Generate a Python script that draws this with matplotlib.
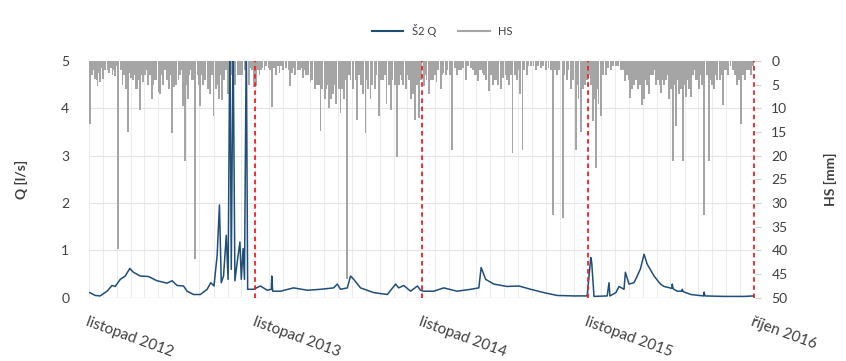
import numpy as np
import matplotlib
matplotlib.use("Agg")
import matplotlib.pyplot as plt
from matplotlib.lines import Line2D

plt.rcParams['font.family'] = ['Lato', 'DejaVu Sans']

start = np.datetime64('2012-11-01')

# discharge Q [l/s], knots (day offset from start)
q_day = [1, 13, 24, 39, 50, 57, 68, 79, 89, 97, 112, 130, 149, 171, 182, 193, 207, 215, 229, 244,
         259, 267, 274, 281, 286, 290, 295, 301, 305, 309, 312, 316, 320, 325, 331, 334, 338, 341, 345, 348,
         361, 376, 391, 400, 401, 403, 420, 449, 479, 508, 537, 545, 552, 567, 574, 581, 596, 625, 655, 673,
         680, 691, 706, 721, 728, 735, 757, 779, 808, 838, 856, 861, 871, 889, 918, 944, 970, 999, 1028, 1065,
         1094, 1102, 1104, 1109, 1138, 1142, 1144, 1157, 1164, 1175, 1178, 1186, 1197, 1204, 1211, 1219, 1226, 1241, 1255, 1263,
         1280, 1281, 1283, 1292, 1302, 1303, 1305, 1322, 1350, 1351, 1353, 1395, 1439, 1460]
q_val = [0.11, 0.05, 0.04, 0.14, 0.26, 0.24, 0.39, 0.46, 0.62, 0.54, 0.46, 0.45, 0.36, 0.31, 0.36, 0.26, 0.25, 0.14, 0.07, 0.07,
         0.18, 0.32, 0.25, 0.90, 1.96, 0.32, 0.46, 1.32, 0.39, 5.50, 0.60, 5.50, 0.36, 0.75, 1.18, 0.39, 1.04, 0.39, 5.50, 0.18,
         0.18, 0.25, 0.16, 0.18, 0.46, 0.14, 0.14, 0.21, 0.16, 0.18, 0.21, 0.29, 0.18, 0.21, 0.46, 0.39, 0.21, 0.11, 0.07, 0.29,
         0.21, 0.26, 0.14, 0.25, 0.16, 0.14, 0.14, 0.21, 0.14, 0.18, 0.21, 0.64, 0.39, 0.29, 0.24, 0.25, 0.18, 0.11, 0.05, 0.04,
         0.04, 0.85, 0.75, 0.03, 0.04, 0.32, 0.04, 0.11, 0.24, 0.18, 0.54, 0.29, 0.32, 0.46, 0.61, 0.92, 0.71, 0.46, 0.29, 0.24,
         0.20, 0.29, 0.19, 0.14, 0.14, 0.18, 0.13, 0.07, 0.04, 0.12, 0.04, 0.03, 0.03, 0.04]

# precipitation HS [mm] (day offset from start)
hs_day = [2, 8, 13, 18, 24, 30, 35, 43, 51, 57, 64, 73, 80, 86, 92, 97, 102, 106, 112, 118,
          123, 130, 138, 143, 147, 152, 156, 162, 167, 175, 182, 186, 191, 200, 205, 211, 216, 222, 227, 233,
          238, 244, 250, 255, 260, 266, 273, 279, 286, 292, 297, 304, 310, 316, 321, 326, 332, 341, 350, 356,
          361, 367, 374, 380, 385, 394, 402, 411, 418, 425, 433, 442, 453, 464, 470, 477, 486, 495, 501, 508,
          517, 521, 526, 531, 535, 543, 548, 552, 559, 567, 574, 580, 589, 596, 602, 607, 613, 618, 627, 636,
          645, 653, 662, 671, 677, 684, 690, 695, 706, 711, 716, 724,
          735, 741, 746, 755, 763, 772, 778, 783, 798, 807, 816, 827, 838, 847, 854, 861, 867, 878, 887, 895,
          904, 910, 915, 922, 930, 939, 946, 952, 961, 970, 981, 992, 1003, 1018, 1027, 1040, 1049, 1058, 1069, 1075,
          1080, 1089, 1098, 1107, 1113, 1119, 1124, 1135, 1146, 1157, 1168, 1177, 1188, 1193, 1197, 1206, 1214, 1219, 1223, 1229,
          1234, 1245, 1250, 1256, 1262, 1267, 1274, 1282, 1289, 1296, 1304, 1311, 1317, 1322, 1333, 1340, 1351, 1362, 1368, 1373,
          1380, 1392, 1404, 1415, 1423, 1432, 1441, 1450, 1455,
          # smaller rain days
          5, 10, 16, 21, 27, 40, 47, 54, 60, 69, 76, 83, 89, 100, 109, 115, 126, 134, 141, 159,
          165, 170, 178, 196, 203, 208, 214, 219, 225, 230, 241, 247, 253, 263, 270, 283, 289, 301, 313, 319,
          329, 336, 345, 353, 358, 364, 370, 378, 389, 398, 406, 414, 422, 438, 446, 449, 458, 468, 473, 481,
          490, 498, 504, 512, 524, 529, 538, 556, 563, 570, 585, 592, 599, 610, 622, 631, 640, 649, 658, 666,
          674, 681, 687, 699, 703, 720, 728, 738, 750, 759, 767, 775, 787, 792, 803, 812, 821, 832, 843, 851,
          858, 864, 872, 883, 891, 899, 918, 926, 935, 943, 956, 965, 976, 986, 997, 1009, 1014, 1023, 1033, 1044,
          1053, 1063, 1072, 1084, 1093, 1102, 1110, 1116, 1129, 1140, 1151, 1162, 1173, 1182, 1185, 1201, 1210, 1217, 1226, 1238,
          1241, 1253, 1259, 1271, 1278, 1285, 1292, 1300, 1307, 1314, 1326, 1330, 1337, 1344, 1347, 1358, 1365, 1377, 1385, 1388,
          1396, 1400, 1409, 1419, 1427, 1436, 1446, 1458]
hs_mm = [13.4, 2.0, 3.9, 5.3, 4.5, 3.9, 1.8, 2.5, 3.0, 3.2, 39.6, 5.0, 6.0, 14.9, 3.5, 4.0, 6.0, 6.0, 10.3, 4.5,
         3.0, 5.0, 8.1, 4.0, 4.0, 6.5, 7.0, 5.0, 2.0, 6.0, 15.1, 5.5, 5.0, 3.0, 9.5, 21.2, 8.0, 2.0, 4.0, 41.7,
         3.0, 9.5, 5.0, 4.0, 6.0, 7.0, 11.7, 6.0, 8.0, 8.2, 4.0, 7.0, 4.0, 2.0, 5.0, 3.0, 3.0, 2.0, 5.0, 1.5,
         5.5, 5.3, 3.0, 1.5, 2.0, 1.5, 9.8, 3.0, 2.5, 2.0, 1.5, 5.3, 3.0, 2.0, 3.5, 3.0, 4.5, 6.0, 5.0, 14.8,
         8.0, 6.0, 10.0, 8.0, 7.0, 9.0, 6.0, 11.0, 8.0, 46.0, 4.0, 6.0, 12.4, 5.0, 7.0, 15.2, 6.0, 8.0, 6.0, 11.6,
         4.0, 9.0, 10.3, 5.0, 20.2, 3.0, 5.0, 6.0, 8.0, 7.0, 12.5, 12.0,
         5.3, 4.0, 7.0, 4.0, 4.5, 6.0, 2.5, 3.0, 18.7, 3.0, 2.0, 4.0, 1.5, 3.0, 4.2, 2.0, 3.0, 6.4, 5.0, 4.0,
         6.0, 3.5, 3.0, 5.0, 19.4, 4.0, 7.0, 18.7, 3.0, 1.0, 2.0, 1.5, 2.0, 32.6, 3.0, 33.2, 4.0, 6.0, 18.7, 8.0,
         15.0, 5.0, 3.0, 12.7, 22.6, 9.0, 11.7, 3.0, 2.0, 1.0, 2.0, 4.2, 7.8, 6.0, 5.0, 6.0, 9.2, 8.0, 4.0, 7.0,
         3.0, 5.0, 4.0, 6.7, 5.0, 4.0, 8.0, 21.2, 13.8, 7.0, 21.2, 7.7, 6.0, 7.7, 4.0, 6.0, 32.5, 21.2, 5.0, 6.0,
         4.0, 9.2, 3.0, 2.0, 5.0, 13.4, 4.0, 2.0, 3.0,
         3.0, 2.0, 4.0, 2.5, 1.5, 2.0, 1.5, 2.0, 1.0, 2.0, 3.0, 2.0, 2.5, 3.0, 4.0, 3.0, 2.0, 3.0, 5.0, 3.0,
         2.0, 4.0, 3.0, 4.0, 2.0, 3.0, 5.0, 3.0, 4.0, 3.0, 5.0, 3.0, 2.0, 4.0, 3.0, 5.0, 3.0, 2.0, 3.0, 2.0,
         2.0, 3.0, 2.0, 1.0, 2.0, 3.0, 2.0, 2.0, 1.0, 2.0, 1.5, 1.0, 1.0, 2.0, 2.5, 1.5, 2.0, 1.5, 2.0, 3.0,
         4.0, 3.0, 5.0, 6.0, 5.0, 7.0, 5.0, 6.0, 4.0, 3.0, 4.0, 3.0, 5.0, 4.0, 5.0, 3.0, 4.0, 3.0, 5.0, 4.0,
         3.0, 5.0, 4.0, 3.0, 4.0, 5.0, 4.0, 3.0, 4.0, 3.0, 2.0, 3.0, 2.0, 3.0, 1.5, 2.0, 1.5, 1.0, 2.0, 3.0,
         2.0, 2.5, 4.0, 3.0, 4.0, 5.0, 4.0, 3.0, 3.0, 2.0, 2.0, 1.0, 1.0, 1.0, 1.0, 1.5, 2.0, 2.0, 2.0, 3.0,
         2.0, 4.0, 5.0, 6.0, 4.0, 5.0, 8.0, 6.0, 3.0, 1.5, 1.0, 1.0, 2.0, 3.0, 4.0, 4.0, 5.0, 7.0, 5.0, 3.0,
         2.0, 5.0, 4.0, 3.0, 6.0, 5.0, 4.0, 6.0, 5.0, 4.0, 3.0, 2.0, 4.0, 3.0, 5.0, 3.0, 4.0, 3.0, 4.0, 3.0,
         2.0, 2.0, 1.0, 3.0, 4.0, 3.0, 2.0, 1.0]

# hydrological year boundaries and tick labels
year_day = [365, 730, 1095, 1460]
tick_day = [0, 365, 730, 1095, 1460]
tick_labels = ['listopad 2012', 'listopad 2013', 'listopad 2014', 'listopad 2015', 'říjen 2016']

blue = '#1f4e79'
gray = '#a5a5a5'

q_dates = start + np.array(q_day, dtype='timedelta64[D]')
hs_dates = start + np.array(hs_day, dtype='timedelta64[D]')
year_dates = start + np.array(year_day, dtype='timedelta64[D]')
tick_dates = start + np.array(tick_day, dtype='timedelta64[D]')

fig = plt.figure(figsize=(8.46, 3.61), dpi=100)
ax = fig.add_axes([0.105, 0.175, 0.787, 0.656])
ax2 = ax.twinx()

# precipitation hanging from the top
ax2.bar(hs_dates, hs_mm, width=4.2, color=gray, linewidth=0)
ax2.set_ylim(50, 0)
ax2.set_yticks(range(0, 51, 5))

ax.set_zorder(ax2.get_zorder() + 1)
ax.patch.set_visible(False)

ax.plot(q_dates, q_val, color=blue, lw=1.1)
for d in year_dates:
    ax.axvline(d, color='#ee2222', lw=1.3, ls=(0, (2.5, 2)))

ax.set_ylim(0, 5)
ax.set_xlim(start - np.timedelta64(1, 'D'), start + np.timedelta64(1462, 'D'))

# monthly light grid + horizontal grid
months = np.arange(np.datetime64('2012-11'), np.datetime64('2016-11'), dtype='datetime64[M]')
for m in months:
    ax2.axvline(m.astype('datetime64[D]'), color='#ececec', lw=0.7, zorder=0)
for yv in range(1, 6):
    ax2.axhline(yv * 10, color='#e4e4e4', lw=0.8, zorder=0)
ax2.axhline(50, color='#d9d9d9', lw=0.9, zorder=0)

ax.set_xticks(tick_dates)
ax.set_xticklabels(tick_labels, rotation=-20, ha='left', va='top', rotation_mode='anchor',
                   fontsize=11, color='#404040')
ax.tick_params(axis='x', length=0, pad=12)
ax.tick_params(axis='y', length=0, labelsize=10, labelcolor='#404040', pad=14)
ax2.tick_params(axis='y', length=4, color='#d0d0d0', labelsize=10, labelcolor='#404040', pad=8)

for a in (ax, ax2):
    for s in a.spines.values():
        s.set_visible(False)

ax.set_ylabel('Q [l/s]', fontsize=10, fontweight='bold', color='#404040', labelpad=24)
ax2.set_ylabel('HS [mm]', fontsize=10, fontweight='bold', color='#404040', rotation=90, labelpad=26)

handles = [Line2D([], [], color=blue, lw=1.5), Line2D([], [], color=gray, lw=1.5)]
fig.legend(handles, ['Š2 Q', 'HS'], loc='center', bbox_to_anchor=(0.523, 0.915), ncol=2,
           frameon=False, fontsize=8, handlelength=2.8, columnspacing=2.0, labelcolor='#404040')

fig.savefig('out.png', dpi=100)
